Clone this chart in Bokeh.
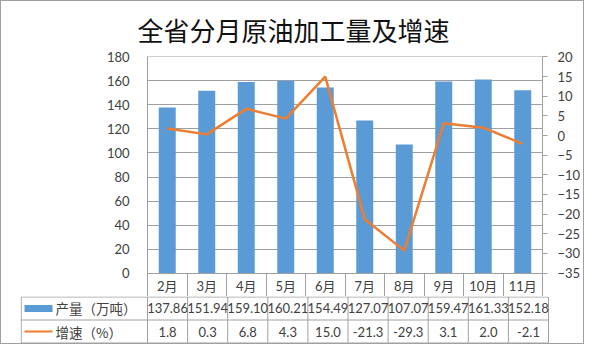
from bokeh.plotting import figure
from bokeh.models import Range1d, LinearAxis, FixedTicker, Title
from bokeh.layouts import column
from bokeh.core.properties import value
from bokeh.embed import file_html
from bokeh.resources import INLINE

# ---- data ----
months = ["2月", "3月", "4月", "5月", "6月", "7月", "8月", "9月", "10月", "11月"]
output = [137.86, 151.94, 159.10, 160.21, 154.49, 127.07, 107.07, 159.47, 161.33, 152.18]
growth = [1.8, 0.3, 6.8, 4.3, 15.0, -21.3, -29.3, 3.1, 2.0, -2.1]
left_ticks = [0, 20, 40, 60, 80, 100, 120, 140, 160, 180]
right_ticks = [-35, -30, -25, -20, -15, -10, -5, 0, 5, 10, 15, 20]
title_text = "全省分月原油加工量及增速"
series_names = ["产量（万吨）", "增速（%）"]

# ---- style ----
BLUE = "#5B9BD5"
ORANGE = "#ED7D31"
GRID = "#a0a0a0"
TXT = "#404040"
NUM_FONT = value("Lato")
MIX_FONT = "Lato, Noto Sans CJK SC"
CJK_FONT = value("Noto Sans CJK SC")

n = len(months)
xs = [i + 0.5 for i in range(n)]

# ---- chart (its x axis forms the month header row of the table) ----
p1 = figure(width=582, height=295, x_range=Range1d(0, n), y_range=Range1d(-0.4, 180.4),
            output_backend="svg", toolbar_location=None, frame_align=False,
            min_border_left=146, min_border_right=35, min_border_top=55, min_border_bottom=23)
p1.outline_line_color = None
p1.background_fill_color = "white"
p1.border_fill_color = "white"
p1.xgrid.visible = False
p1.ygrid.ticker = FixedTicker(ticks=left_ticks)
p1.ygrid.grid_line_color = GRID

p1.title = Title(text=title_text, align="left", offset=-10, standoff=20,
                 text_font=MIX_FONT, text_font_size="26px",
                 text_font_style="normal", text_color="#111111")

xa = p1.xaxis[0]
xa.ticker = FixedTicker(ticks=xs, minor_ticks=list(range(n + 1)))
xa.major_label_overrides = {x: m for x, m in zip(xs, months)}
xa.major_tick_out = 23
xa.major_tick_in = 0
xa.major_tick_line_color = None
xa.minor_tick_in = 0
xa.minor_tick_out = 23
xa.minor_tick_line_color = GRID
xa.axis_line_color = GRID
xa.major_label_standoff = -19
xa.major_label_text_font = MIX_FONT
xa.major_label_text_font_size = "13px"
xa.major_label_text_color = TXT

ya = p1.yaxis[0]
ya.ticker = FixedTicker(ticks=left_ticks)
ya.major_tick_out = 0
ya.major_tick_in = 0
ya.minor_tick_out = 0
ya.minor_tick_in = 0
ya.axis_line_color = GRID
ya.major_label_standoff = 18
ya.major_label_text_font = "Lato"
ya.major_label_text_font_size = "13px"
ya.major_label_text_color = TXT

p1.extra_y_ranges = {"g": Range1d(-35.122, 20.122)}
ra = LinearAxis(y_range_name="g", ticker=FixedTicker(ticks=right_ticks))
ra.major_tick_out = 5
ra.major_tick_in = 0
ra.minor_tick_out = 0
ra.minor_tick_in = 0
ra.axis_line_color = GRID
ra.major_tick_line_color = GRID
ra.major_label_standoff = 10
ra.major_label_text_font = "Lato"
ra.major_label_text_font_size = "13px"
ra.major_label_text_color = TXT
p1.add_layout(ra, "right")

p1.vbar(x=xs, top=output, width=0.43, fill_color=BLUE, line_color=None)
p1.line(x=xs, y=growth, y_range_name="g", line_color=ORANGE, line_width=2.5)

# ---- data table rows ----
LEG_L = -3.15
p2 = figure(width=582, height=47, x_range=Range1d(-3.167, 10.025), y_range=Range1d(-0.0217, 2.0217),
            output_backend="svg", toolbar_location=None, frame_align=False,
            min_border_left=19, min_border_right=34, min_border_top=0, min_border_bottom=0,
            x_axis_location=None, y_axis_location=None)
p2.outline_line_color = None
p2.grid.visible = False
p2.border_fill_color = "white"

hy = [0, 1, 2]
p2.segment(x0=[LEG_L] * 3, y0=hy, x1=[n] * 3, y1=hy, line_color=GRID, line_width=1)
vx = list(range(n + 1)) + [LEG_L]
p2.segment(x0=vx, y0=[0] * (n + 2), x1=vx, y1=[2] * (n + 2), line_color=GRID, line_width=1)

p2.text(x=xs, y=[1.5] * n, text=[f"{v:.2f}" for v in output], text_font=NUM_FONT,
        text_font_size="13px", text_align="center", text_baseline="middle", text_color=TXT)
p2.text(x=xs, y=[0.5] * n, text=[f"{v:.1f}" for v in growth], text_font=NUM_FONT,
        text_font_size="13px", text_align="center", text_baseline="middle", text_color=TXT)

# legend keys
p2.quad(left=[-3.067], right=[-2.369], bottom=[1.35], top=[1.65], fill_color=BLUE, line_color=None)
p2.segment(x0=[-3.067], y0=[0.5], x1=[-2.369], y1=[0.5], line_color=ORANGE, line_width=2)
p2.text(x=[-2.294, -2.294], y=[1.5, 0.5], text=series_names, text_font=CJK_FONT,
        text_font_size="13.5px", text_align="left", text_baseline="middle", text_color=TXT)

layout = column(p1, p2, spacing=0, styles={"border": "1px solid #a0a0a0"})

open("out.html", "w").write(file_html(layout, INLINE))
